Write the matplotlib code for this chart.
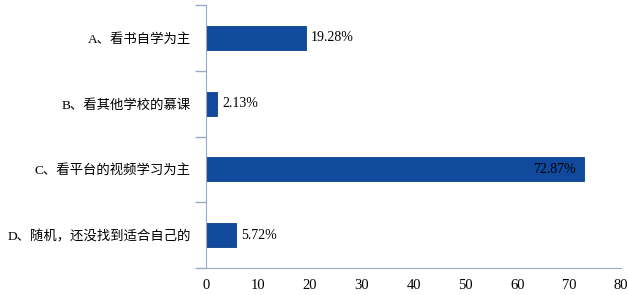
import matplotlib
matplotlib.use("Agg")

import numpy as np
import matplotlib.pyplot as plt

# 数据
categories = ["A、看书自学为主", "B、看其他学校的慕课", "C、看平台的视频学习为主", "D、随机，还没找到适合自己的"]
values = [19.28, 2.13, 72.87, 5.72]
x_ticks = [0, 10, 20, 30, 40, 50, 60, 70, 80]

plt.rcParams["font.family"] = ["Liberation Serif", "Noto Sans CJK SC"]

fig = plt.figure(figsize=(6.28, 2.95), dpi=100)
ax = fig.add_axes([0.328, 0.0915, 0.661, 0.8915])

n = len(categories)
y_pos = np.arange(n)[::-1]
bar_color = "#114A9C"
ax.barh(y_pos, values, height=0.364, color=bar_color, edgecolor="#0B3F8A", linewidth=0.6)

for y, v in zip(y_pos, values):
    if v > 50:
        ax.text(v - 1.6, y, f"{v:.2f}%", ha="right", va="center", fontsize=10, color="black")
    else:
        ax.text(v + 1.0, y, f"{v:.2f}%", ha="left", va="center", fontsize=10, color="black")

ax.set_xlim(0, 80)
ax.set_ylim(-0.5, n - 0.5)
ax.set_xticks(x_ticks)
ax.set_xticklabels([str(t) for t in x_ticks], fontsize=10.5)

# 分类边界的刻度线 + 居中的标签
ax.set_yticks(np.arange(-0.5, n, 1.0))
ax.set_yticklabels([])
ax.set_yticks(y_pos, minor=True)
ax.set_yticklabels(categories, minor=True, fontsize=9.6)
ax.tick_params(axis="y", which="major", length=8, color="#9AAAC6", width=1)
ax.tick_params(axis="y", which="minor", length=0, pad=11)
ax.tick_params(axis="x", length=0, pad=8)

axis_color = "#9AAAC6"
ax.spines["left"].set_color(axis_color)
ax.spines["bottom"].set_color(axis_color)
ax.spines["top"].set_visible(False)
ax.spines["right"].set_visible(False)

plt.savefig("out.png", dpi=100)
